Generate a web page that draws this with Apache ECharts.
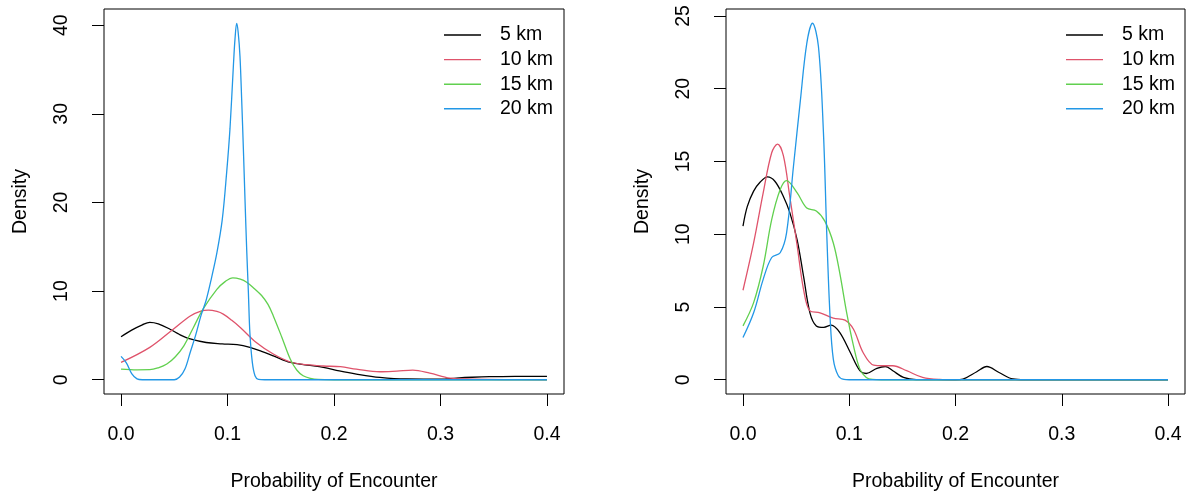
<!DOCTYPE html>
<html>
<head>
<meta charset="utf-8">
<script src="https://cdn.jsdelivr.net/npm/echarts@6/dist/echarts.min.js"></script>
<style>
html,body{margin:0;padding:0;background:#fff;}
#chart{width:1188px;height:497px;}
</style>
</head>
<body>
<div id="chart"></div>
<script>
// ---------- data ----------
const seriesNames = ['5 km', '10 km', '15 km', '20 km'];
const seriesColors = ['#000000', '#DF536B', '#61D04F', '#2297E6'];
const xTicks = [0, 0.1, 0.2, 0.3, 0.4];
const yTicksLeft = [0, 10, 20, 30, 40];
const yTicksRight = [0, 5, 10, 15, 20, 25];

// Left panel
const leftX5 = [0, 0.01, 0.02, 0.027, 0.035, 0.046, 0.055, 0.065, 0.08, 0.095, 0.109, 0.121, 0.132, 0.143, 0.159, 0.175, 0.19, 0.205, 0.221, 0.243, 0.268, 0.3, 0.315, 0.33, 0.346, 0.37, 0.4];
const leftY5 = [4.85, 5.6, 6.2, 6.47, 6.3, 5.7, 5.1, 4.6, 4.2, 4.05, 3.95, 3.65, 3.2, 2.7, 1.95, 1.65, 1.4, 1.0, 0.64, 0.26, 0.08, 0.07, 0.19, 0.28, 0.34, 0.37, 0.38];

const leftX10 = [0, 0.027, 0.049, 0.065, 0.075, 0.082, 0.09, 0.096, 0.104, 0.112, 0.127, 0.143, 0.159, 0.174, 0.19, 0.206, 0.221, 0.243, 0.259, 0.274, 0.29, 0.309, 0.33, 0.36, 0.4];
const leftY10 = [1.95, 3.65, 5.7, 7.2, 7.75, 7.86, 7.7, 7.4, 6.7, 5.9, 4.2, 2.9, 2.0, 1.7, 1.55, 1.47, 1.2, 0.9, 0.98, 1.09, 0.75, 0.19, 0.07, 0.01, 0];

const leftX15 = [0, 0.015, 0.027, 0.035, 0.043, 0.051, 0.059, 0.068, 0.077, 0.09, 0.098, 0.105, 0.112, 0.118, 0.125, 0.132, 0.138, 0.143, 0.151, 0.159, 0.165, 0.171, 0.178, 0.185, 0.2, 0.4];
const leftY15 = [1.2, 1.12, 1.13, 1.35, 1.77, 2.6, 3.83, 5.9, 7.97, 10.2, 11.1, 11.5, 11.35, 11.0, 10.3, 9.5, 8.5, 7.2, 4.8, 2.3, 1.1, 0.45, 0.15, 0.03, 0, 0];

const leftX20 = [0, 0.005, 0.01, 0.015, 0.02, 0.05, 0.055, 0.06, 0.065, 0.07, 0.075, 0.08, 0.085, 0.09, 0.095, 0.0992, 0.1023, 0.1055, 0.107, 0.1086, 0.11, 0.1117, 0.1133, 0.1149, 0.1164, 0.118, 0.1196, 0.121, 0.1233, 0.1258, 0.129, 0.135, 0.4];
const leftY20 = [2.63, 1.9, 0.7, 0.1, 0, 0, 0.3, 1.2, 3.1, 5.0, 7.2, 9.0, 11.5, 14.3, 18.0, 23.4, 28.3, 35.4, 38.4, 40.2, 39.2, 36.5, 31.6, 26.0, 20.4, 14.7, 9.85, 5.3, 1.95, 0.45, 0.05, 0, 0];

// Right panel
const rightX5 = [0, 0.004, 0.01, 0.016, 0.023, 0.03, 0.038, 0.044, 0.051, 0.057, 0.063, 0.069, 0.076, 0.083, 0.091, 0.101, 0.11, 0.116, 0.126, 0.134, 0.141, 0.151, 0.163, 0.2, 0.207, 0.22, 0.2295, 0.241, 0.254, 0.265, 0.4];
const rightY5 = [10.56, 11.9, 12.96, 13.57, 13.94, 13.64, 12.6, 11.5, 9.6, 7.1, 4.6, 3.7, 3.6, 3.75, 3.25, 1.87, 0.62, 0.43, 0.78, 0.91, 0.62, 0.16, 0.01, 0, 0.05, 0.55, 0.91, 0.5, 0.05, 0, 0];

const rightX10 = [0, 0.01, 0.019, 0.027, 0.0325, 0.038, 0.044, 0.051, 0.057, 0.063, 0.0725, 0.085, 0.096, 0.104, 0.113, 0.123, 0.132, 0.141, 0.154, 0.169, 0.185, 0.2, 0.4];
const rightY10 = [6.15, 9.4, 12.84, 15.6, 16.2, 15.4, 12.6, 9.2, 6.2, 4.73, 4.6, 4.23, 4.1, 3.47, 1.87, 1.0, 0.96, 0.96, 0.62, 0.16, 0.02, 0, 0];

const rightX15 = [0, 0.01, 0.019, 0.027, 0.035, 0.041, 0.051, 0.06, 0.069, 0.077, 0.085, 0.091, 0.0976, 0.104, 0.11, 0.116, 0.122, 0.13, 0.4];
const rightY15 = [3.7, 5.3, 7.8, 11.0, 13.07, 13.69, 12.84, 11.8, 11.6, 10.9, 9.4, 7.36, 4.6, 2.33, 0.73, 0.16, 0.02, 0, 0];

const rightX20 = [0, 0.01, 0.019, 0.027, 0.035, 0.041, 0.0475, 0.054, 0.06, 0.0654, 0.071, 0.0757, 0.0788, 0.0819, 0.085, 0.0897, 0.095, 0.1, 0.4];
const rightY20 = [2.9, 4.6, 6.9, 8.4, 8.73, 10.1, 14.67, 19.2, 23.1, 24.5, 22.9, 17.0, 10.1, 4.4, 1.42, 0.27, 0.02, 0, 0];

// ---------- build ----------
const zip = (xs, ys) => xs.map((x, i) => [x, ys[i]]);
const panels = [
  { xs: [leftX5, leftX10, leftX15, leftX20], ys: [leftY5, leftY10, leftY15, leftY20], yTicks: yTicksLeft, yMin: -1.61, yMax: 41.83 },
  { xs: [rightX5, rightX10, rightX15, rightX20], ys: [rightY5, rightY10, rightY15, rightY20], yTicks: yTicksRight, yMin: -0.98, yMax: 25.48 }
];

const FONT = '"Liberation Sans", Arial, Helvetica, sans-serif';
const FS = 19.5;
const grids = [
  { left: 104, right: 624, top: 9, bottom: 102 },
  { left: 726, right: 3, top: 9, bottom: 102 }
].map(g => Object.assign(g, { show: true, borderColor: '#000', borderWidth: 1, backgroundColor: 'transparent', containLabel: false }));

const xAxes = panels.map((p, i) => ({
  type: 'value', gridIndex: i, min: -0.016, max: 0.416,
  axisLine: { show: false, onZero: false },
  splitLine: { show: false },
  axisTick: { show: true, inside: false, length: 12, customValues: xTicks, lineStyle: { color: '#000', width: 1 } },
  axisLabel: { show: true, customValues: xTicks, margin: 31, color: '#000', fontSize: FS, fontFamily: FONT, formatter: v => v.toFixed(1) },
  name: 'Probability of Encounter', nameLocation: 'middle', nameGap: 78,
  nameTextStyle: { color: '#000', fontSize: FS, fontFamily: FONT }
}));

const yAxes = panels.map((p, i) => ({
  type: 'value', gridIndex: i, min: p.yMin, max: p.yMax,
  axisLine: { show: false, onZero: false },
  splitLine: { show: false },
  axisTick: { show: true, inside: false, length: 12, customValues: p.yTicks, lineStyle: { color: '#000', width: 1 } },
  axisLabel: { show: true, customValues: p.yTicks, rotate: 90, margin: 32, color: '#000', fontSize: FS, fontFamily: FONT, formatter: v => String(v) },
  name: 'Density', nameLocation: 'middle', nameRotate: 90, nameGap: 73,
  nameTextStyle: { color: '#000', fontSize: FS, fontFamily: FONT }
}));

const series = [];
panels.forEach((p, i) => {
  seriesNames.forEach((n, k) => {
    series.push({
      type: 'line', name: n, xAxisIndex: i, yAxisIndex: i,
      data: zip(p.xs[k], p.ys[k]),
      symbol: 'none', smooth: 0.35,
      lineStyle: { color: seriesColors[k], width: 1.3 },
      itemStyle: { color: seriesColors[k] },
      z: 2 + k
    });
  });
});

const legendBase = {
  orient: 'vertical', top: 25, itemWidth: 37, itemHeight: 1.4, itemGap: 4.6, padding: 0,
  icon: 'rect',
  selectedMode: false,
  data: seriesNames,
  textStyle: { color: '#000', fontSize: FS, fontFamily: FONT, lineHeight: 20, padding: [0, 0, 0, 14] }
};
const legends = [
  Object.assign({}, legendBase, { left: 444 }),
  Object.assign({}, legendBase, { left: 1066 })
];

const chart = echarts.init(document.getElementById('chart'), null, { renderer: 'canvas' });
chart.setOption({
  animation: false,
  backgroundColor: '#fff',
  color: seriesColors,
  grid: grids,
  xAxis: xAxes,
  yAxis: yAxes,
  legend: legends,
  series: series
});
</script>
</body>
</html>
